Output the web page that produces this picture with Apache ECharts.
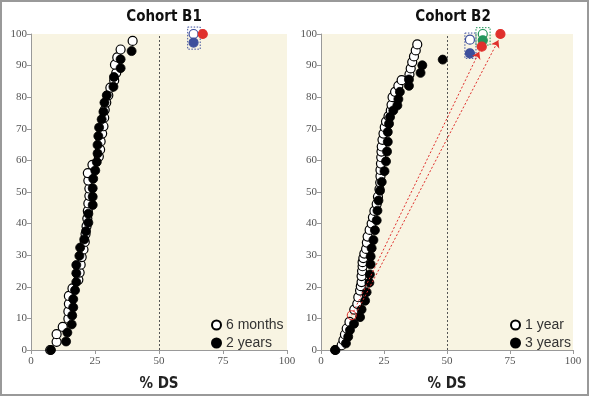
<!DOCTYPE html>
<html>
<head>
<meta charset="utf-8">
<script src="https://cdn.jsdelivr.net/npm/echarts@6/dist/echarts.min.js"></script>
<style>
  html, body { margin: 0; padding: 0; background: #fff; }
  #chart { width: 591px; height: 397px; }
</style>
</head>
<body>
<div id="chart"></div>
<script>
// Cohort B1: cumulative % of patients vs %DS
var b1SixMonths = [
  [7.5, 0], [10, 2.6], [10, 5], [12.4, 7.3], [14.6, 9.9], [14.6, 12.2], [14.8, 14.6], [14.8, 17.1],
  [16.2, 19.5], [18.5, 22.2], [19, 24.5], [19.4, 27], [19.8, 29.4], [20.5, 31.8], [21, 34.2],
  [21.3, 36.7], [21.7, 39.2], [22, 41.6], [22.2, 44], [22.4, 46.4], [22.8, 48.8], [22.8, 51.1],
  [22.4, 53.6], [22.2, 56], [24, 58.6], [26.5, 61.2], [27, 63.4], [27.2, 66], [27.8, 68.5],
  [28.3, 70.8], [28.6, 73.5], [28.8, 76], [29.4, 78.3], [30.2, 80.6], [31, 83], [32.5, 85.3],
  [33.3, 87.7], [32.8, 90.3], [33.7, 92.6], [35, 95.1], [39.7, 97.8]
];
var b1TwoYears = [
  [7.8, 0], [13.7, 2.7], [14.2, 5.5], [15.9, 8.1], [16.1, 10.9], [16.5, 13.5], [16.5, 16.1],
  [17.2, 18.9], [17.7, 21.5], [17.7, 24.3], [17.7, 26.9], [18.9, 29.8], [19.2, 32.4], [20.8, 35],
  [21.5, 37.6], [22.4, 40.3], [22.4, 43.1], [24.1, 45.9], [24.1, 48.5], [24.1, 51.2], [24.3, 54.2],
  [25.1, 56.8], [25.7, 59.5], [26, 62.2], [26, 64.9], [26.3, 67.7], [26.6, 70.4], [27.6, 73],
  [28.3, 75.4], [28.7, 78.3], [29.6, 80.6], [32.2, 83.3], [32.4, 86.4], [35, 89.2], [35, 92],
  [39.3, 94.6]
];
// Cohort B2
var b2OneYear = [
  [5.7, 0], [8.2, 1.5], [8.9, 3.1], [9.5, 4.9], [10.2, 6.8], [11.3, 8.9], [13.2, 12.8],
  [14.4, 14.6], [14.8, 16.7], [15.5, 18.8], [15.8, 20.2], [16.1, 21.5], [16.1, 23.4], [16.3, 25],
  [16.5, 26.5], [16.5, 27.8], [16.8, 29.1], [17.2, 30.5], [17.9, 32], [18.2, 34], [18.5, 35.9],
  [19.3, 38], [20.1, 40], [20.6, 42], [21.2, 44], [22.1, 46.2], [22.6, 48.5], [23.2, 50.9],
  [23.5, 53], [23.6, 55], [23.6, 57], [23.8, 59], [23.9, 61], [24, 62.8], [24.1, 64.4],
  [24.4, 66.5], [24.8, 68.5], [25.3, 70.5], [25.8, 72.3], [26.8, 74], [27.7, 75.8], [28, 77.6],
  [28.4, 80], [29.4, 81.7], [30.7, 83.6], [32, 85.4], [35.1, 87.2], [35.6, 89.1], [36.2, 91.1],
  [36.9, 92.9], [37.6, 94.8], [38.2, 96.7]
];
var b2ThreeYears = [
  [5.6, 0], [9.9, 2.1], [10.8, 4.2], [11.5, 6.3], [13.1, 8.3], [15.5, 10.4], [16.1, 12.8],
  [17.5, 15.6], [18.1, 18.3], [19.2, 21.3], [19.4, 23.9], [19.7, 27.1], [19.7, 29.6],
  [20.1, 32.2], [20.8, 34.8], [21.4, 37.9], [22.1, 41], [22.4, 44.1], [22.8, 47.3], [23.4, 50.4],
  [24.1, 53.2], [25.2, 56.6], [25.8, 59.7], [26.2, 62.8], [26.5, 65.9], [26.5, 69], [27, 71.6],
  [27.4, 73.7], [28.7, 75.8], [30.3, 77.4], [30.7, 79.4], [31.3, 81.7], [34.9, 83.6],
  [34.9, 85.6], [39.5, 87.7], [40.2, 90.1], [48.3, 91.9]
];
// highlighted single patients (top-right)
var b1Marks = [[63.5, 100, 'open'], [67.1, 100, 'red'], [63.5, 97.3, 'blue']];
var b2Marks = [[59.1, 98.2, 'open'], [59.1, 93.9, 'blue'], [64.2, 100, 'greenOpen'],
  [64.2, 98, 'green'], [63.8, 96, 'red'], [71.2, 100, 'red']];
var b1Boxes = [[61.2, 95.2, 66.1, 102.2, 'blue']];
var b2Boxes = [[57.1, 92.3, 61.5, 100.3, 'blue'], [61.5, 96.5, 67.1, 102, 'green']];
var b2Arrows = [[[12.2, 11], [62.8, 94.4]], [[14.5, 12.5], [70.4, 98]]];
var b2ArrowStart = [[12.2, 11]];

var cream = '#f8f4e2';
var sans = '"Liberation Sans Narrow", "DejaVu Sans Condensed", sans-serif';
var serif = '"Liberation Serif", "DejaVu Serif", serif';
var colors = {
  blue: '#3d4f9c', red: '#e0302c', green: '#23955a',
  open: '#fff', greenOpen: '#fff'
};
var borders = {
  blue: '#3d4f9c', red: '#e0302c', green: '#23955a',
  open: '#3d4f9c', greenOpen: '#23955a'
};

function axisY(idx) {
  return {
    gridIndex: idx, type: 'value', min: 0, max: 100, interval: 10,
    axisLine: { show: true, lineStyle: { color: '#999' } },
    axisTick: { show: true, length: 4, lineStyle: { color: '#999' } },
    axisLabel: { fontFamily: serif, fontSize: 11, color: '#555', margin: 4 },
    splitLine: { show: false }
  };
}
function axisX(idx) {
  return {
    gridIndex: idx, type: 'value', min: 0, max: 100, interval: 25,
    name: '% DS', nameLocation: 'middle', nameGap: 27,
    nameTextStyle: { fontFamily: sans, fontWeight: 'bold', fontSize: 15, color: '#222' },
    axisLine: { show: true, onZero: false, lineStyle: { color: '#999' } },
    axisTick: { show: true, length: 4, lineStyle: { color: '#999' } },
    axisLabel: { fontFamily: serif, fontSize: 11, color: '#555', margin: 6 },
    splitLine: { show: false }
  };
}
function cdf(name, idx, data, filled) {
  return {
    name: name, type: 'scatter', xAxisIndex: idx, yAxisIndex: idx,
    data: data, symbolSize: 9, clip: false,
    itemStyle: filled
      ? { color: '#000', borderColor: '#000', borderWidth: 0.8, opacity: 1 }
      : { color: '#fff', borderColor: '#000', borderWidth: 1.2, opacity: 1 }
  };
}
function marks(idx, list) {
  return {
    type: 'scatter', xAxisIndex: idx, yAxisIndex: idx, symbolSize: 9, clip: false, z: 5,
    data: list.map(function (m) {
      return {
        value: [m[0], m[1]],
        itemStyle: { color: colors[m[2]], borderColor: borders[m[2]], borderWidth: 1.2, opacity: 1 }
      };
    })
  };
}
function boxes(idx, list) {
  return {
    type: 'custom', xAxisIndex: idx, yAxisIndex: idx, clip: false, z: 4,
    data: list.map(function (b) { return [b[0], b[1], b[2], b[3]]; }),
    renderItem: function (params, api) {
      var p1 = api.coord([api.value(0), api.value(3)]);
      var p2 = api.coord([api.value(2), api.value(1)]);
      var c = borders[list[params.dataIndex][4]];
      return {
        type: 'rect',
        shape: { x: p1[0], y: p1[1], width: p2[0] - p1[0], height: p2[1] - p1[1] },
        style: { fill: 'none', stroke: c, lineWidth: 1, lineDash: [1.5, 1.5] }
      };
    }
  };
}
function cutoff(idx) {
  return {
    type: 'scatter', xAxisIndex: idx, yAxisIndex: idx, data: [],
    markLine: {
      silent: true, symbol: 'none', label: { show: false },
      lineStyle: { color: '#555', type: [2, 2], width: 1 },
      data: [{ xAxis: 50 }]
    }
  };
}
function legendAt(left, names) {
  return {
    orient: 'vertical', left: left, top: 313, data: names,
    icon: 'circle', itemWidth: 9, itemHeight: 9, itemGap: 4,
    textStyle: { fontFamily: '"Liberation Sans", Arial, sans-serif', fontSize: 14, color: '#333' },
    selectedMode: false
  };
}

var chart = echarts.init(document.getElementById('chart'));
chart.setOption({
  backgroundColor: '#fff',
  animation: false,
  title: [
    { text: 'Cohort B1', left: 159, top: 5, textAlign: 'center',
      textStyle: { fontFamily: sans, fontWeight: 'bold', fontSize: 15, color: '#111' } },
    { text: 'Cohort B2', left: 448, top: 5, textAlign: 'center',
      textStyle: { fontFamily: sans, fontWeight: 'bold', fontSize: 15, color: '#111' } }
  ],
  graphic: [{
    type: 'rect', shape: { x: 1, y: 1, width: 587, height: 394 },
    style: { fill: 'none', stroke: '#999', lineWidth: 2 }, silent: true
  }],
  legend: [legendAt(206, ['6 months', '2 years']), legendAt(505, ['1 year', '3 years'])],
  grid: [
    { left: 31, top: 34, width: 256, height: 321, show: true, backgroundColor: cream, borderWidth: 0 },
    { left: 321, top: 34, width: 252, height: 321, show: true, backgroundColor: cream, borderWidth: 0 }
  ],
  xAxis: [axisX(0), axisX(1)],
  yAxis: [axisY(0), axisY(1)],
  series: [
    cutoff(0), cutoff(1),
    cdf('6 months', 0, b1SixMonths, false),
    cdf('2 years', 0, b1TwoYears, true),
    cdf('1 year', 1, b2OneYear, false),
    cdf('3 years', 1, b2ThreeYears, true),
    {
      type: 'lines', coordinateSystem: 'cartesian2d', xAxisIndex: 1, yAxisIndex: 1, z: 6,
      symbol: ['none', 'arrow'], symbolSize: 7,
      lineStyle: { color: '#e0302c', width: 1, type: [2, 2], opacity: 1 },
      data: b2Arrows.map(function (a) { return { coords: a }; })
    },
    {
      type: 'scatter', xAxisIndex: 1, yAxisIndex: 1, symbolSize: 9, z: 6, data: b2ArrowStart,
      itemStyle: { color: 'rgba(255,255,255,0)', borderColor: '#e0302c', borderWidth: 1, opacity: 1 }
    },
    boxes(0, b1Boxes), boxes(1, b2Boxes),
    marks(0, b1Marks), marks(1, b2Marks)
  ]
});
</script>
</body>
</html>
